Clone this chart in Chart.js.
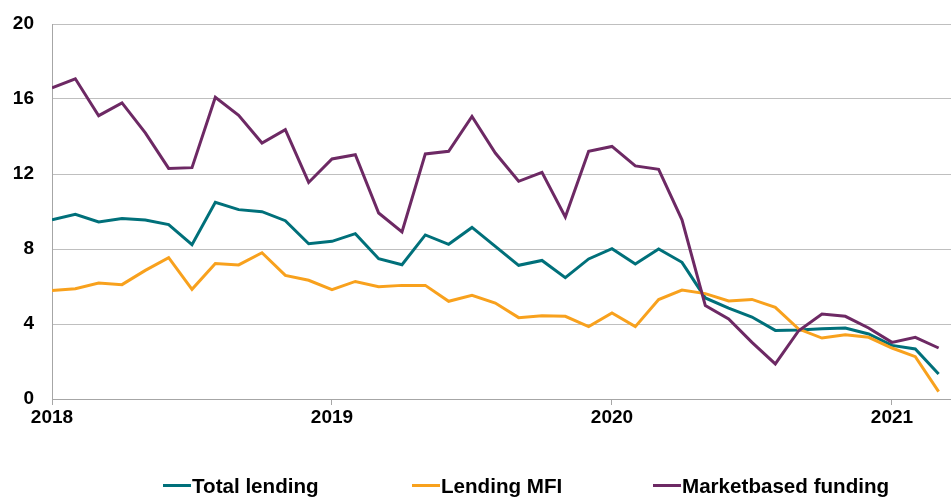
<!DOCTYPE html>
<html>
<head>
<meta charset="utf-8">
<script src="https://cdn.jsdelivr.net/npm/chart.js@4/dist/chart.umd.min.js"></script>
<style>
  html, body { margin: 0; padding: 0; background: #fff; }
  #wrap { position: relative; width: 951px; height: 498px; overflow: hidden; }
  .lg { position: absolute; font-family: "Liberation Sans", Arial, sans-serif; font-weight: bold; font-size: 20.6px; line-height: 20px; color: #000; white-space: nowrap; }
  .mk { position: absolute; height: 3px; width: 28px; }
</style>
</head>
<body>
<div id="wrap">
  <canvas id="c" width="951" height="498"></canvas>
  <div class="mk" style="left:163px;top:484px;background:#00707A"></div>
  <div class="lg" style="left:192px;top:476px">Total lending</div>
  <div class="mk" style="left:412px;top:484px;background:#F8A11D"></div>
  <div class="lg" style="left:441px;top:476px">Lending MFI</div>
  <div class="mk" style="left:653px;top:484px;background:#6D2964"></div>
  <div class="lg" style="left:682px;top:476px">Marketbased funding</div>
</div>
<script>
// Monthly observations, Jan 2018 .. Mar 2021
const months = [
  '2018-01','2018-02','2018-03','2018-04','2018-05','2018-06','2018-07','2018-08','2018-09','2018-10','2018-11','2018-12',
  '2019-01','2019-02','2019-03','2019-04','2019-05','2019-06','2019-07','2019-08','2019-09','2019-10','2019-11','2019-12',
  '2020-01','2020-02','2020-03','2020-04','2020-05','2020-06','2020-07','2020-08','2020-09','2020-10','2020-11','2020-12',
  '2021-01','2021-02','2021-03'
];
const totalLending = [
  9.56, 9.85, 9.44, 9.62, 9.55, 9.30, 8.23, 10.49, 10.10, 9.99, 9.51, 8.28,
  8.41, 8.82, 7.48, 7.16, 8.75, 8.25, 9.15, 8.14, 7.13, 7.39, 6.47, 7.47,
  8.02, 7.20, 8.00, 7.29, 5.39, 4.85, 4.37, 3.66, 3.68, 3.75, 3.79, 3.47,
  2.86, 2.67, 1.33
];
const lendingMFI = [
  5.79, 5.88, 6.19, 6.10, 6.86, 7.54, 5.85, 7.23, 7.15, 7.80, 6.59, 6.33,
  5.83, 6.27, 5.99, 6.06, 6.06, 5.21, 5.53, 5.12, 4.34, 4.44, 4.41, 3.86,
  4.59, 3.86, 5.30, 5.81, 5.62, 5.23, 5.31, 4.89, 3.73, 3.25, 3.43, 3.29,
  2.72, 2.26, 0.39
];
const marketFunding = [
  16.59, 17.08, 15.11, 15.79, 14.19, 12.30, 12.34, 16.09, 15.13, 13.65, 14.36, 11.55,
  12.80, 13.03, 9.92, 8.91, 13.07, 13.21, 15.07, 13.12, 11.61, 12.09, 9.71, 13.21,
  13.47, 12.43, 12.25, 9.56, 4.98, 4.27, 3.02, 1.87, 3.64, 4.53, 4.41, 3.79,
  3.02, 3.29, 2.72
];
const yearLabels = ['2018', '2019', '2020', '2021'];
const yTicks = [0, 4, 8, 12, 16, 20];

const toPts = arr => arr.map((v, i) => ({ x: i, y: v }));
const tickFont = { family: '"Liberation Sans", Arial, sans-serif', size: 19, weight: 'bold' };

new Chart(document.getElementById('c'), {
  type: 'line',
  data: {
    datasets: [
      { label: 'Total lending', data: toPts(totalLending), borderColor: '#00707A', backgroundColor: '#00707A', borderWidth: 3, pointRadius: 0, tension: 0, order: 3 },
      { label: 'Lending MFI', data: toPts(lendingMFI), borderColor: '#F8A11D', backgroundColor: '#F8A11D', borderWidth: 3, pointRadius: 0, tension: 0, order: 2 },
      { label: 'Marketbased funding', data: toPts(marketFunding), borderColor: '#6D2964', backgroundColor: '#6D2964', borderWidth: 3, pointRadius: 0, tension: 0, order: 1 }
    ]
  },
  options: {
    responsive: false,
    animation: false,
    layout: { padding: { top: 24, right: 0, bottom: 0, left: 0 } },
    plugins: { legend: { display: false }, tooltip: { enabled: false } },
    scales: {
      x: {
        type: 'linear',
        min: 0,
        max: 38.53,
        afterBuildTicks: s => { s.ticks = yearLabels.map((_, k) => ({ value: k * 12 })); },
        afterFit: s => { s.height = 99; s.paddingLeft = 0; s.paddingRight = 0; },
        ticks: {
          autoSkip: false,
          maxRotation: 0,
          padding: 1,
          color: '#000',
          font: tickFont,
          callback: v => yearLabels[Math.round(v / 12)]
        },
        grid: { drawOnChartArea: false, drawTicks: true, tickLength: 6, color: '#A6A6A6', lineWidth: 1 },
        border: { display: true, color: '#A6A6A6', width: 1 }
      },
      y: {
        min: 0,
        max: 20,
        afterBuildTicks: s => { s.ticks = yTicks.map(v => ({ value: v })); },
        afterFit: s => { s.width = 52; s.paddingTop = 0; s.paddingBottom = 0; },
        ticks: { padding: 18, color: '#000', font: tickFont },
        grid: { drawTicks: false, color: '#BFBFBF', lineWidth: 1 },
        border: { display: true, color: '#A6A6A6', width: 1 }
      }
    }
  }
});
</script>
</body>
</html>
